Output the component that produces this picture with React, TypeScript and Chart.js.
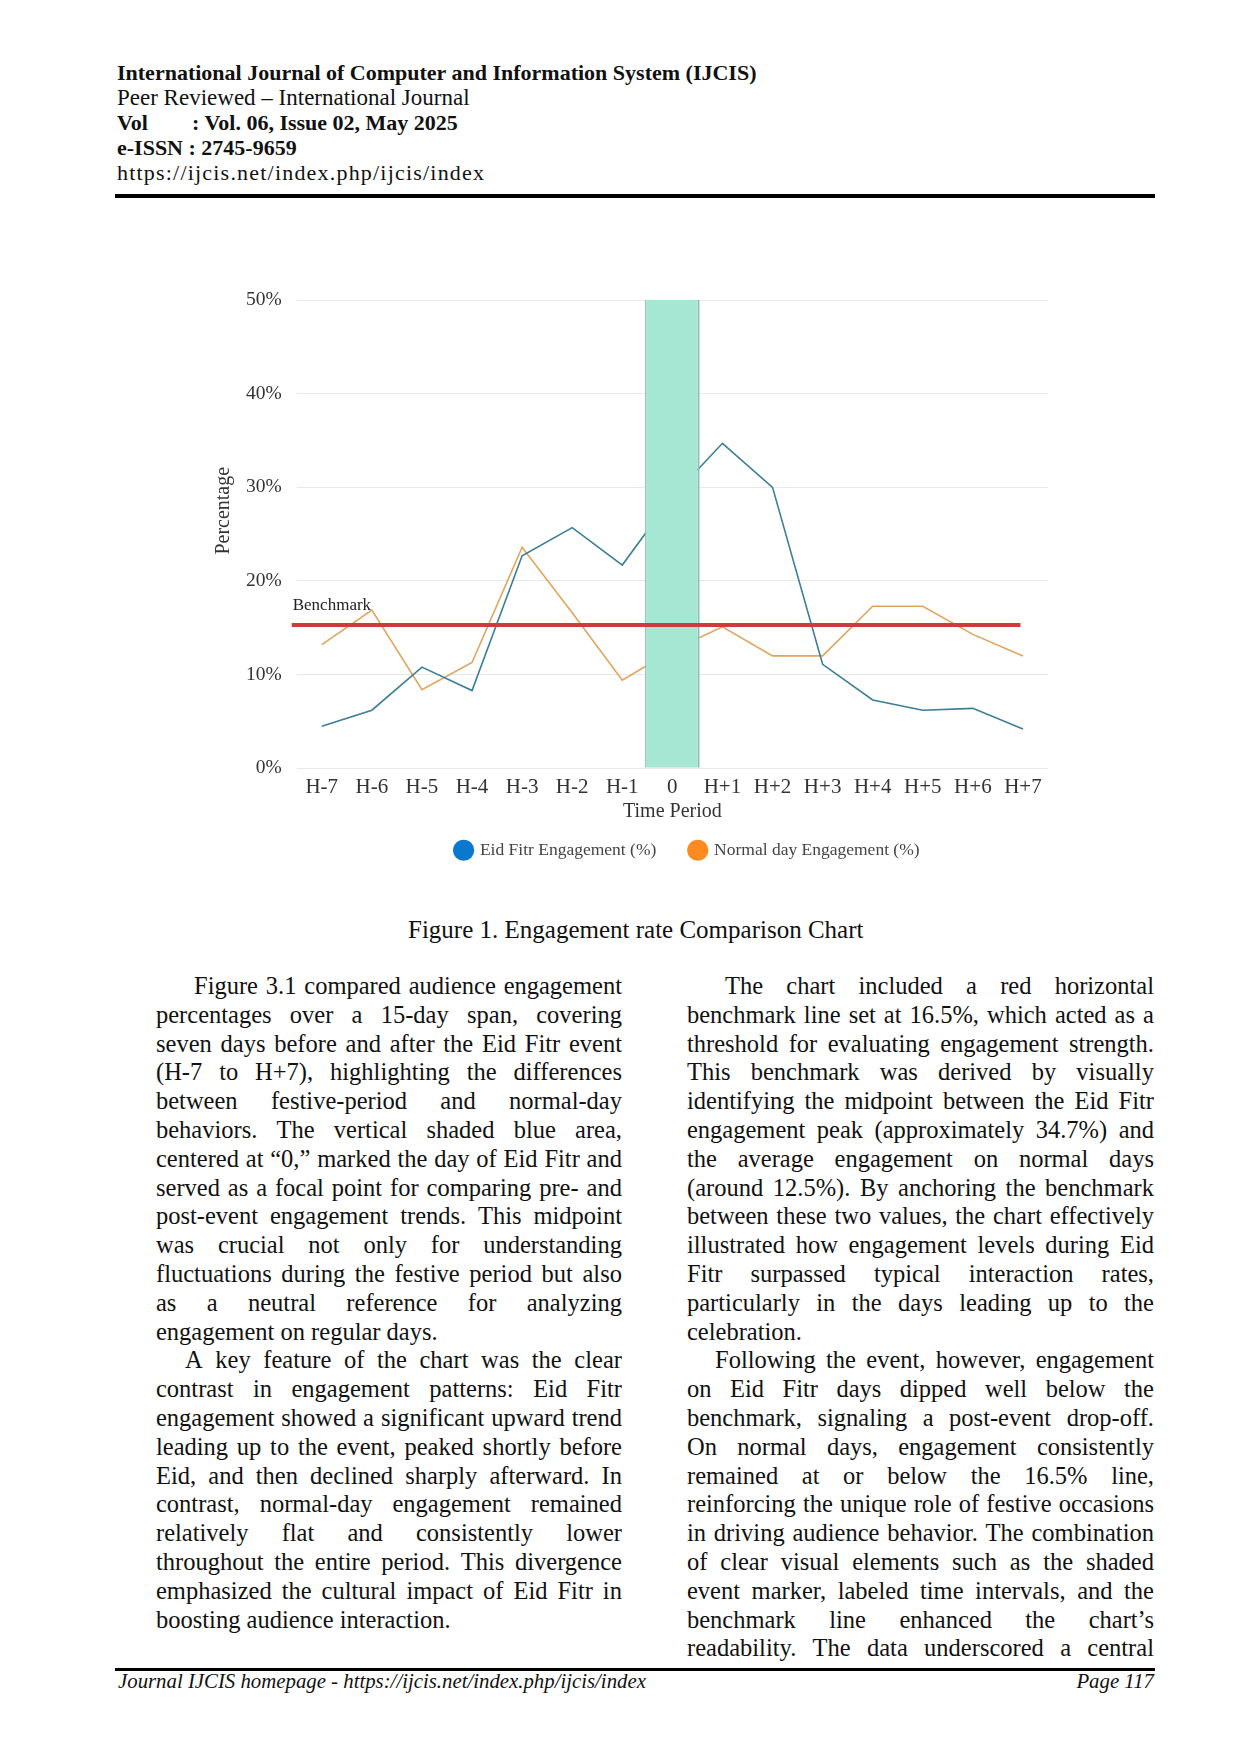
import React, { useEffect, useRef } from 'react';
import { Chart, registerables } from 'chart.js';

Chart.register(...registerables);

// ---- chart data ----
const days = ['H-7', 'H-6', 'H-5', 'H-4', 'H-3', 'H-2', 'H-1', '0', 'H+1', 'H+2', 'H+3', 'H+4', 'H+5', 'H+6', 'H+7'];
const eidFitr = [4.5, 6.2, 10.8, 8.3, 22.7, 25.7, 21.7, 29.0, 34.7, 30.0, 11.1, 7.3, 6.2, 6.4, 4.2];
const normalDay = [13.2, 16.9, 8.4, 11.3, 23.6, 16.6, 9.4, 12.6, 15.1, 12.0, 12.0, 17.3, 17.3, 14.3, 12.0];
const eidDayBand = [null, null, null, null, null, null, null, 50, null, null, null, null, null, null, null];
const yTicks = [0, 10, 20, 30, 40, 50];
const benchmark = 15.3;
const benchmarkFrom = -0.6; // in category units
const benchmarkTo = 13.95;

const SERIF = '"Liberation Serif", "Times New Roman", serif';

const overlayPlugin = {
  id: 'overlay',
  afterLayout(chart: any) {
    // the legend in the figure sits a bit right of the plot centre
    const lg = chart.legend;
    if (lg) {
      lg.left += 15.5;
      lg.right += 15.5;
    }
  },
  afterDatasetsDraw(chart: any) {
    const { ctx, chartArea } = chart;
    const x = chart.scales.x;
    const y = chart.scales.y;
    const yb = y.getPixelForValue(benchmark);
    const x0 = x.getPixelForValue(benchmarkFrom);
    const x1 = x.getPixelForValue(benchmarkTo);
    ctx.save();
    ctx.strokeStyle = '#cf3a3a';
    ctx.lineWidth = 4;
    ctx.beginPath();
    ctx.moveTo(x0, yb);
    ctx.lineTo(x1, yb);
    ctx.stroke();

    ctx.fillStyle = '#222';
    ctx.font = '17px ' + SERIF;
    ctx.textBaseline = 'alphabetic';
    ctx.fillText('Benchmark', x0 + 1, yb - 15);

    // y axis title, sits a little above the middle of the plot
    ctx.translate(chartArea.left - 73, y.getPixelForValue(27.5));
    ctx.rotate(-Math.PI / 2);
    ctx.textAlign = 'center';
    ctx.textBaseline = 'middle';
    ctx.font = '20px ' + SERIF;
    ctx.fillStyle = '#333';
    ctx.fillText('Percentage', 0, 0);
    ctx.restore();
  },
};

function EngagementChart() {
  const canvasRef = useRef<HTMLCanvasElement>(null);

  useEffect(() => {
    if (!canvasRef.current) return;
    const chart = new Chart(canvasRef.current, {
      type: 'bar',
      data: {
        labels: days,
        datasets: [
          {
            type: 'bar',
            label: 'Eid Day',
            data: eidDayBand as any,
            backgroundColor: '#a6e7d3',
            borderColor: '#8dbdac',
            borderWidth: { left: 1, right: 2, top: 0, bottom: 0 } as any,
            borderSkipped: false,
            barPercentage: 1.09,
            categoryPercentage: 1,
            order: 0,
          },
          {
            type: 'line',
            label: 'Eid Fitr Engagement (%)',
            data: eidFitr,
            borderColor: '#3a7e98',
            backgroundColor: '#0b78d0',
            borderWidth: 1.6,
            pointRadius: 0,
            tension: 0,
            order: 1,
          },
          {
            type: 'line',
            label: 'Normal day Engagement (%)',
            data: normalDay,
            borderColor: '#e2a45c',
            backgroundColor: '#ff8a1f',
            borderWidth: 1.6,
            pointRadius: 0,
            tension: 0,
            order: 2,
          },
        ],
      },
      options: {
        responsive: false,
        animation: false,
        layout: { padding: { top: 30, left: 41, right: 22, bottom: 0 } },
        scales: {
          x: {
            offset: true,
            grid: { display: false, drawTicks: false },
            border: { display: false },
            ticks: { color: '#333', font: { family: SERIF, size: 21 }, padding: 7, maxRotation: 0 },
            title: {
              display: true,
              text: 'Time Period',
              color: '#333',
              font: { family: SERIF, size: 20 },
              padding: { top: -8, bottom: -16 },
            },
          },
          y: {
            min: 0,
            max: 50,
            afterBuildTicks: (scale: any) => {
              scale.ticks = yTicks.map((v) => ({ value: v }));
            },
            grid: { color: '#e8e8e8', lineWidth: 1, drawTicks: false },
            border: { display: false },
            ticks: {
              color: '#333',
              font: { family: SERIF, size: 19.5 },
              padding: 15,
              callback: (v: any) => v + '%',
            },
          },
        },
        plugins: {
          tooltip: { enabled: false },
          legend: {
            position: 'bottom',
            fullSize: false,
            labels: {
              usePointStyle: true,
              pointStyle: 'circle',
              boxWidth: 15,
              boxHeight: 15,
              padding: 34,
              color: '#444',
              font: { family: SERIF, size: 17.5 },
              filter: (item: any) => item.datasetIndex > 0,
              generateLabels: (c: any) =>
                Chart.defaults.plugins.legend.labels.generateLabels(c).map((l: any) => ({
                  ...l,
                  strokeStyle: l.fillStyle,
                  lineWidth: 0,
                })),
            },
          },
        },
      },
      plugins: [overlayPlugin],
    });
    return () => chart.destroy();
  }, []);

  return <canvas ref={canvasRef} width={880} height={599} style={{ width: 880, height: 599 }} />;
}

// ---- page text ----
type Line = { text: string; indent?: number; last?: boolean };

const leftLines: Line[] = [
  { text: 'Figure 3.1 compared audience engagement', indent: 38 },
  { text: 'percentages over a 15-day span, covering' },
  { text: 'seven days before and after the Eid Fitr event' },
  { text: '(H-7 to H+7), highlighting the differences' },
  { text: 'between festive-period and normal-day' },
  { text: 'behaviors. The vertical shaded blue area,' },
  { text: 'centered at \u201C0,\u201D marked the day of Eid Fitr and' },
  { text: 'served as a focal point for comparing pre- and' },
  { text: 'post-event engagement trends. This midpoint' },
  { text: 'was crucial not only for understanding' },
  { text: 'fluctuations during the festive period but also' },
  { text: 'as a neutral reference for analyzing' },
  { text: 'engagement on regular days.', last: true },
  { text: 'A key feature of the chart was the clear', indent: 29 },
  { text: 'contrast in engagement patterns: Eid Fitr' },
  { text: 'engagement showed a significant upward trend' },
  { text: 'leading up to the event, peaked shortly before' },
  { text: 'Eid, and then declined sharply afterward. In' },
  { text: 'contrast, normal-day engagement remained' },
  { text: 'relatively flat and consistently lower' },
  { text: 'throughout the entire period. This divergence' },
  { text: 'emphasized the cultural impact of Eid Fitr in' },
  { text: 'boosting audience interaction.', last: true },
];

const rightLines: Line[] = [
  { text: 'The chart included a red horizontal', indent: 38 },
  { text: 'benchmark line set at 16.5%, which acted as a' },
  { text: 'threshold for evaluating engagement strength.' },
  { text: 'This benchmark was derived by visually' },
  { text: 'identifying the midpoint between the Eid Fitr' },
  { text: 'engagement peak (approximately 34.7%) and' },
  { text: 'the average engagement on normal days' },
  { text: '(around 12.5%). By anchoring the benchmark' },
  { text: 'between these two values, the chart effectively' },
  { text: 'illustrated how engagement levels during Eid' },
  { text: 'Fitr surpassed typical interaction rates,' },
  { text: 'particularly in the days leading up to the' },
  { text: 'celebration.', last: true },
  { text: 'Following the event, however, engagement', indent: 28 },
  { text: 'on Eid Fitr days dipped well below the' },
  { text: 'benchmark, signaling a post-event drop-off.' },
  { text: 'On normal days, engagement consistently' },
  { text: 'remained at or below the 16.5% line,' },
  { text: 'reinforcing the unique role of festive occasions' },
  { text: 'in driving audience behavior. The combination' },
  { text: 'of clear visual elements such as the shaded' },
  { text: 'event marker, labeled time intervals, and the' },
  { text: 'benchmark line enhanced the chart\u2019s' },
  { text: 'readability. The data underscored a central' },
];

function TextColumn({ lines, left, width }: { lines: Line[]; left: number; width: number }) {
  return (
    <div
      style={{
        position: 'absolute',
        left,
        top: 972,
        width,
        fontFamily: SERIF,
        fontSize: 24.5,
        lineHeight: '28.8px',
        color: '#111',
      }}
    >
      {lines.map((l, i) =>
        l.last ? (
          <div key={i} style={{ paddingLeft: l.indent || 0, whiteSpace: 'nowrap' }}>
            {l.text}
          </div>
        ) : (
          <div
            key={i}
            style={{
              display: 'flex',
              justifyContent: 'space-between',
              paddingLeft: l.indent || 0,
              whiteSpace: 'nowrap',
            }}
          >
            {l.text.split(' ').map((w, j) => (
              <span key={j}>{w}</span>
            ))}
          </div>
        )
      )}
    </div>
  );
}

export default function App() {
  return (
    <div style={{ position: 'absolute', left: 0, top: 0, width: 1240, height: 1754, background: '#fff', fontFamily: SERIF, color: '#111' }}>
      {/* journal header */}
      <div style={{ position: 'absolute', left: 117, top: 59.5, fontSize: 22, lineHeight: '25.2px', whiteSpace: 'nowrap' }}>
        <div style={{ fontWeight: 'bold' }}>International Journal of Computer and Information System (IJCIS)</div>
        <div style={{ fontSize: 23 }}>Peer Reviewed – International Journal</div>
        <div style={{ fontWeight: 'bold' }}>
          <span style={{ display: 'inline-block', width: 75 }}>Vol</span>: Vol. 06, Issue 02, May 2025
        </div>
        <div style={{ fontWeight: 'bold' }}>e-ISSN : 2745-9659</div>
        <div style={{ letterSpacing: 1.2 }}>https://ijcis.net/index.php/ijcis/index</div>
      </div>
      <div style={{ position: 'absolute', left: 115, top: 194, width: 1040, height: 4, background: '#000' }} />

      {/* figure */}
      <div style={{ position: 'absolute', left: 190, top: 270, width: 880, height: 599 }}>
        <EngagementChart />
      </div>
      <div style={{ position: 'absolute', left: 408, top: 916, fontSize: 25, lineHeight: '28.8px', whiteSpace: 'nowrap' }}>
        Figure 1. Engagement rate Comparison Chart
      </div>

      {/* body text */}
      <TextColumn lines={leftLines} left={156} width={466} />
      <TextColumn lines={rightLines} left={687} width={467} />

      {/* footer */}
      <div style={{ position: 'absolute', left: 115, top: 1668, width: 1040, height: 3, background: '#000' }} />
      <div
        style={{
          position: 'absolute',
          left: 118,
          top: 1669,
          width: 1036,
          fontSize: 20.8,
          lineHeight: '24px',
          fontStyle: 'italic',
          display: 'flex',
          justifyContent: 'space-between',
          whiteSpace: 'nowrap',
        }}
      >
        <span>Journal IJCIS homepage - https://ijcis.net/index.php/ijcis/index</span>
        <span>Page 117</span>
      </div>
    </div>
  );
}
